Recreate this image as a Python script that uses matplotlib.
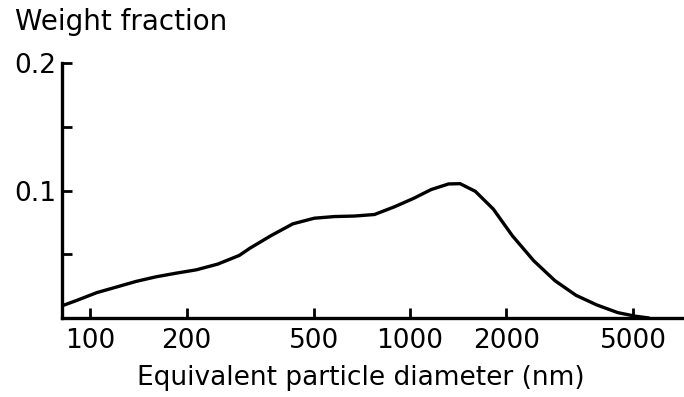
import matplotlib.pyplot as plt
from matplotlib.ticker import FixedLocator, NullLocator

# values
diameter_nm = [80, 90.9, 104.7, 120.7, 139, 160.3, 184.8, 214.5, 250.4, 292.4,
               315.8, 368.5, 430.2, 502, 580, 670, 774, 893, 1027, 1165,
               1321, 1435, 1601, 1822, 2093, 2439, 2841, 3307, 3845, 4470,
               5077, 5590]
weight_frac = [0.0088, 0.0139, 0.0199, 0.0243, 0.0287, 0.0323, 0.0351, 0.0378,
               0.0423, 0.0491, 0.0548, 0.0648, 0.0739, 0.0783, 0.0796, 0.080,
               0.0812, 0.0872, 0.0939, 0.1008, 0.1052, 0.1054, 0.0994, 0.0855,
               0.0644, 0.0449, 0.0293, 0.0178, 0.0102, 0.0042, 0.0014, 0.0]

x_ticks = [100, 200, 500, 1000, 2000, 5000]
x_tick_labels = ["100", "200", "500", "1000", "2000", "5000"]
y_ticks = [0.05, 0.1, 0.15, 0.2]
y_tick_labels = ["", "0.1", "", "0.2"]

plt.rcParams["font.family"] = ["DejaVu Sans"]

fig = plt.figure(figsize=(6.84, 3.97), dpi=100)
ax = fig.add_axes([0.0906, 0.199, 0.9094, 0.642])

ax.plot(diameter_nm, weight_frac, color="black", lw=2.4,
        solid_capstyle="round", solid_joinstyle="round")

ax.set_xscale("log")
ax.set_xlim(81.5, 7200)
ax.set_ylim(0, 0.2)

ax.xaxis.set_major_locator(FixedLocator(x_ticks))
ax.xaxis.set_minor_locator(NullLocator())
ax.set_xticklabels(x_tick_labels)
ax.set_yticks(y_ticks)
ax.set_yticklabels(y_tick_labels)

ax.tick_params(axis="both", direction="in", length=7, width=2, labelsize=19, colors="black")
ax.tick_params(axis="x", pad=7)
ax.tick_params(axis="y", pad=4)

for side in ["top", "right"]:
    ax.spines[side].set_visible(False)
for side in ["left", "bottom"]:
    ax.spines[side].set_linewidth(2.4)

ax.set_xlabel("Equivalent particle diameter (nm)", fontsize=19)
ax.xaxis.set_label_coords(0.481, -0.185)
fig.text(0.022, 0.925, "Weight fraction", fontsize=20, ha="left", va="baseline")

plt.savefig("out.png", dpi=100)
